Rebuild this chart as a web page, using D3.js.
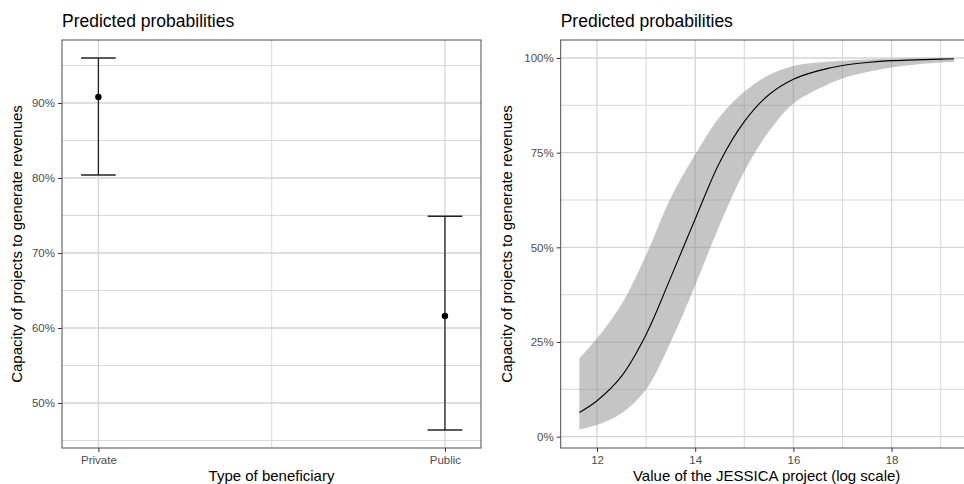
<!DOCTYPE html>
<html>
<head>
<meta charset="utf-8">
<script src="https://cdn.jsdelivr.net/npm/d3@7"></script>
<style>
  body { margin: 0; background: #fff; }
  svg { display: block; font-family: "Liberation Sans", Arial, sans-serif; }
</style>
</head>
<body>
<script>
// left panel: type of beneficiary
var beneficiary = ["Private", "Public"];
var probEst = [0.908, 0.616];
var probLow = [0.804, 0.464];
var probHigh = [0.960, 0.749];
var leftTicks = [0.5, 0.6, 0.7, 0.8, 0.9];
var leftMinor = [0.45, 0.55, 0.65, 0.75, 0.85, 0.95];

// right panel: value of project (log)
var logValue = [11.64, 12, 12.5, 13, 13.5, 14, 14.5, 15, 15.5, 16, 16.5, 17, 17.5, 18, 18.5, 19, 19.27];
var fitProb  = [0.064, 0.095, 0.16, 0.27, 0.42, 0.575, 0.725, 0.832, 0.903, 0.944, 0.966, 0.98, 0.988, 0.993, 0.995, 0.997, 0.998];
var ciLow    = [0.0195, 0.031, 0.062, 0.125, 0.25, 0.40, 0.56, 0.70, 0.806, 0.88, 0.918, 0.946, 0.963, 0.975, 0.983, 0.988, 0.99];
var ciHigh   = [0.207, 0.26, 0.35, 0.48, 0.63, 0.745, 0.845, 0.911, 0.955, 0.979, 0.988, 0.993, 0.996, 0.998, 0.999, 0.999, 0.9995];
var rightXTicks = [12, 14, 16, 18];
var rightXMinor = [13, 15, 17, 19];
var rightYTicks = [0, 0.25, 0.5, 0.75, 1];
var rightYMinor = [0.125, 0.375, 0.625, 0.875];

var W = 964, H = 484;
var svg = d3.select("body").append("svg").attr("width", W).attr("height", H);

var gridCol = "#d5d5d5", borderCol = "#4d4d4d", tickTxt = "#4d4d4d";
var pct = d3.format(".0%");
var yTitleTxt = "Capacity of projects to generate revenues";

function panel(x0, x1, y0, y1, x, y, xTicks, xMinor, xFmt, yTicks, yMinor, title, xTitle, yTitleX) {
  var g = svg.append("g");
  // grid
  g.selectAll(".vmin").data(xMinor).enter().append("line")
    .attr("x1", d => x(d)).attr("x2", d => x(d)).attr("y1", y0).attr("y2", y1)
    .attr("stroke", gridCol).attr("stroke-width", 0.9);
  g.selectAll(".hmin").data(yMinor).enter().append("line")
    .attr("x1", x0).attr("x2", x1).attr("y1", d => y(d)).attr("y2", d => y(d))
    .attr("stroke", gridCol).attr("stroke-width", 0.9);
  g.selectAll(".vmaj").data(xTicks).enter().append("line")
    .attr("x1", d => x(d)).attr("x2", d => x(d)).attr("y1", y0).attr("y2", y1)
    .attr("stroke", gridCol).attr("stroke-width", 1.3);
  g.selectAll(".hmaj").data(yTicks).enter().append("line")
    .attr("x1", x0).attr("x2", x1).attr("y1", d => y(d)).attr("y2", d => y(d))
    .attr("stroke", gridCol).attr("stroke-width", 1.3);

  var plot = svg.append("g");

  // axes
  var ax = svg.append("g").attr("transform", "translate(0," + y1 + ")")
    .call(d3.axisBottom(x).tickValues(xTicks).tickFormat(xFmt).tickSize(4).tickPadding(4));
  var ay = svg.append("g").attr("transform", "translate(" + x0 + ",0)")
    .call(d3.axisLeft(y).tickValues(yTicks).tickFormat(pct).tickSize(4).tickPadding(3));
  [ax, ay].forEach(function(a) {
    a.select(".domain").remove();
    a.selectAll("line").attr("stroke", "#333");
    a.selectAll("text").attr("fill", tickTxt).style("font-size", "11.5px");
  });

  svg.append("rect").attr("x", x0).attr("y", y0).attr("width", x1 - x0).attr("height", y1 - y0)
    .attr("fill", "none").attr("stroke", borderCol).attr("stroke-width", 1);

  svg.append("text").attr("x", x0).attr("y", 27).text(title)
    .style("font-size", "17.5px").attr("fill", "#000");
  svg.append("text").attr("x", (x0 + x1) / 2).attr("y", 481).attr("text-anchor", "middle")
    .text(xTitle).style("font-size", "15px").attr("fill", "#000");
  svg.append("text").attr("transform", "translate(" + yTitleX + "," + ((y0 + y1) / 2) + ") rotate(-90)")
    .attr("text-anchor", "middle").text(yTitleTxt).style("font-size", "15px").attr("fill", "#000");
  return plot;
}

// ---- left panel
var lx0 = 62, lx1 = 481, pTop = 40, pBot = 448;
var xL = d3.scaleLinear().domain([0.895, 2.104]).range([lx0, lx1]);
var yL = d3.scaleLinear().domain([0.44, 0.984]).range([pBot, pTop]);
var idx = beneficiary.map((d, i) => i + 1);

var pL = panel(lx0, lx1, pTop, pBot, xL, yL, idx, [1.5], d => beneficiary[d - 1],
  leftTicks, leftMinor, "Predicted probabilities", "Type of beneficiary", 22);

var capW = 0.05;
var eb = pL.selectAll(".eb").data(beneficiary).enter().append("g");
eb.append("line").attr("x1", (d, i) => xL(i + 1)).attr("x2", (d, i) => xL(i + 1))
  .attr("y1", (d, i) => yL(probLow[i])).attr("y2", (d, i) => yL(probHigh[i]))
  .attr("stroke", "#222").attr("stroke-width", 1.3);
eb.append("line").attr("x1", (d, i) => xL(i + 1 - capW)).attr("x2", (d, i) => xL(i + 1 + capW))
  .attr("y1", (d, i) => yL(probHigh[i])).attr("y2", (d, i) => yL(probHigh[i]))
  .attr("stroke", "#222").attr("stroke-width", 1.3);
eb.append("line").attr("x1", (d, i) => xL(i + 1 - capW)).attr("x2", (d, i) => xL(i + 1 + capW))
  .attr("y1", (d, i) => yL(probLow[i])).attr("y2", (d, i) => yL(probLow[i]))
  .attr("stroke", "#222").attr("stroke-width", 1.3);
eb.append("circle").attr("cx", (d, i) => xL(i + 1)).attr("cy", (d, i) => yL(probEst[i]))
  .attr("r", 3.2).attr("fill", "#000");

// ---- right panel
var rx0 = 560.7, rx1 = 972.6;
var xR = d3.scaleLinear().domain([11.26, 19.65]).range([rx0, rx1]);
var yR = d3.scaleLinear().domain([-0.0298, 1.0475]).range([pBot, pTop]);

var pR = panel(rx0, rx1, pTop, pBot, xR, yR, rightXTicks, rightXMinor, d3.format("d"),
  rightYTicks, rightYMinor, "Predicted probabilities", "Value of the JESSICA project (log scale)", 512);

var pts = logValue.map((v, i) => ({x: v, f: fitProb[i], lo: ciLow[i], hi: ciHigh[i]}));
pR.append("path").datum(pts)
  .attr("d", d3.area().curve(d3.curveCatmullRom).x(d => xR(d.x)).y0(d => yR(d.lo)).y1(d => yR(d.hi)))
  .attr("fill", "#8c8c8c").attr("fill-opacity", 0.5);
pR.append("path").datum(pts)
  .attr("d", d3.line().curve(d3.curveCatmullRom).x(d => xR(d.x)).y(d => yR(d.f)))
  .attr("fill", "none").attr("stroke", "#000").attr("stroke-width", 1.1);
</script>
</body>
</html>
